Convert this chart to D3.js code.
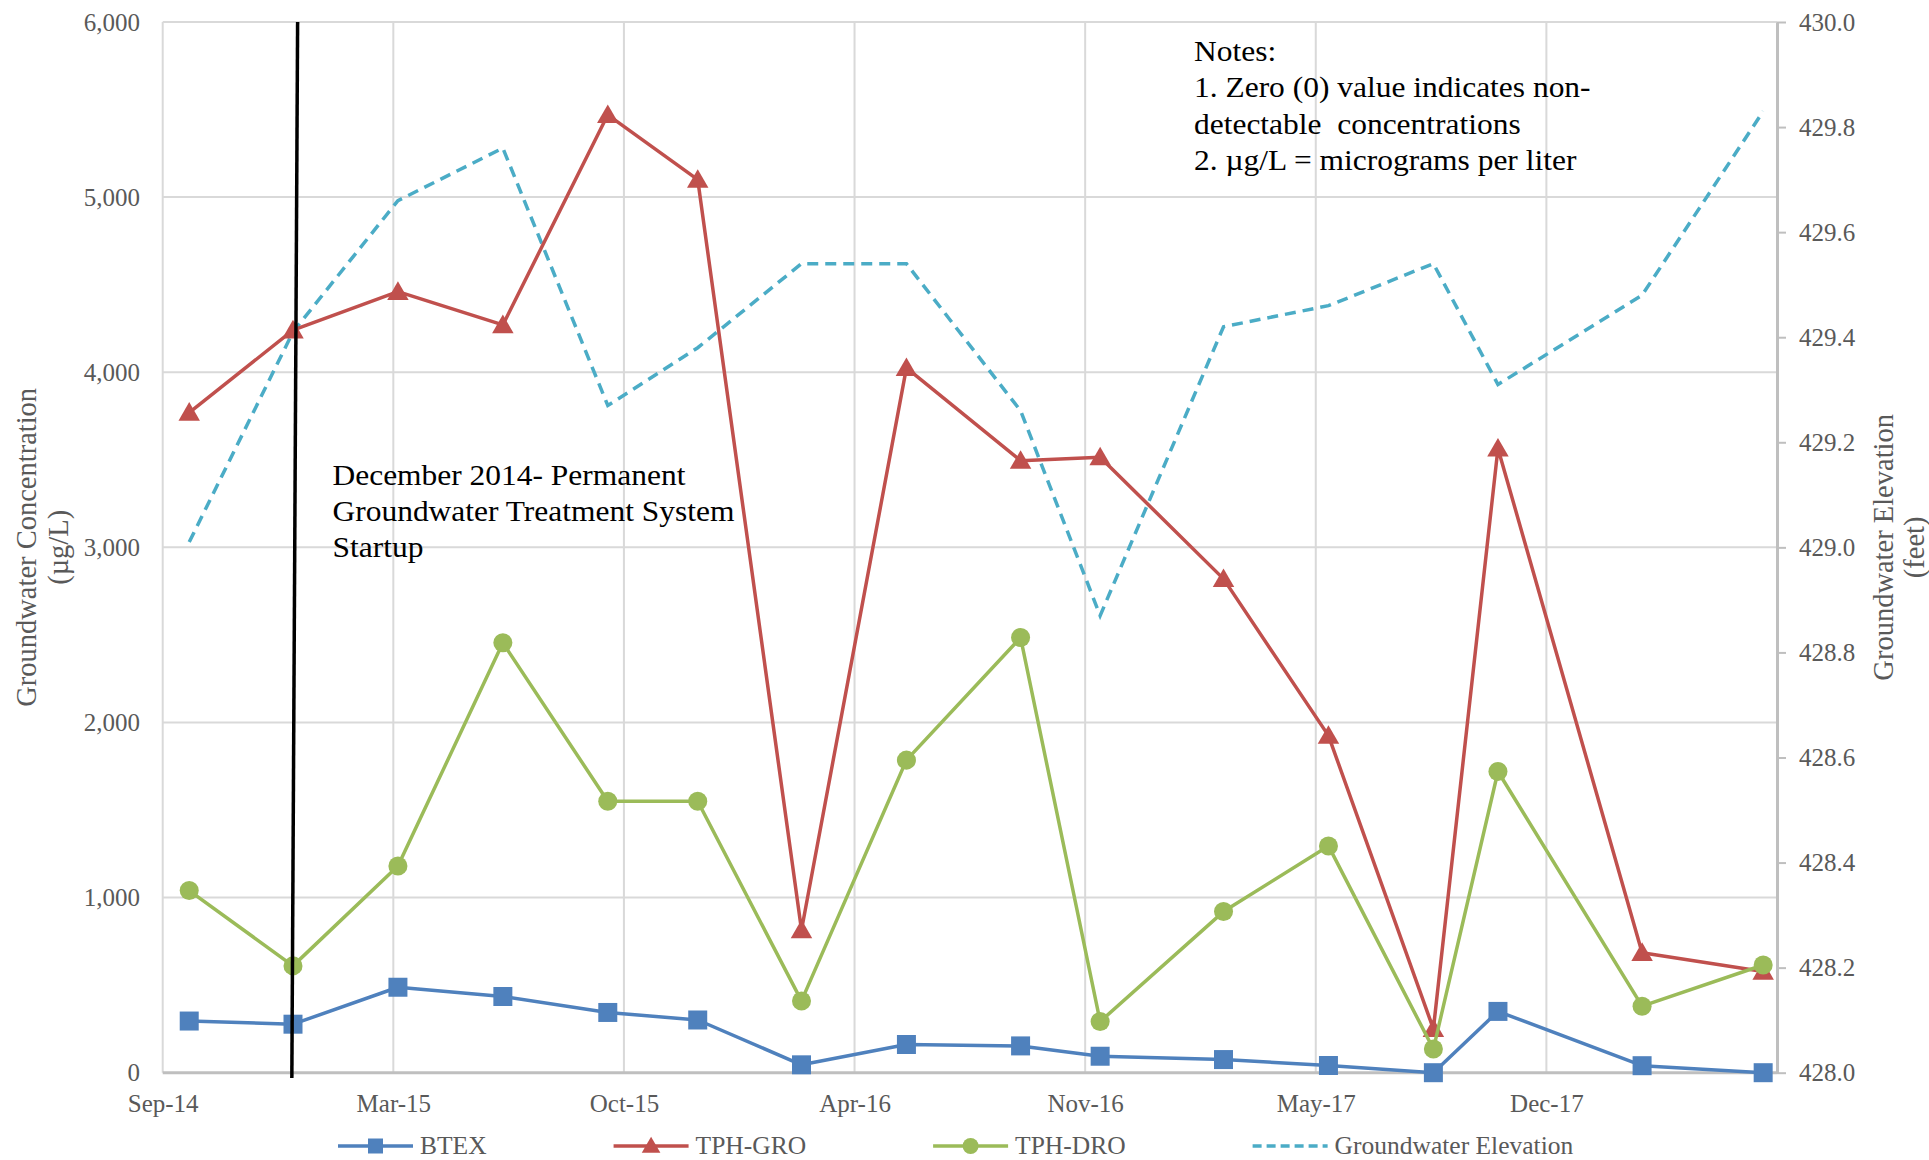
<!DOCTYPE html>
<html>
<head>
<meta charset="utf-8">
<script src="https://cdn.jsdelivr.net/npm/d3@7"></script>
<style>
  html, body { margin: 0; padding: 0; background: #fff; }
  svg { display: block; }
  text { font-family: "Liberation Serif", "Times New Roman", serif; }
</style>
</head>
<body>
<svg id="chart" width="1929" height="1160"></svg>
<script>
// ---------------- DATA ----------------
const sampleDates = ["2014-09-24","2014-12-23","2015-03-24","2015-06-23","2015-09-22","2015-12-09",
  "2016-03-08","2016-06-07","2016-09-14","2016-11-22","2017-03-09","2017-06-08","2017-09-07",
  "2017-11-02","2018-03-07","2018-06-20"];
const btex   = [295, 277, 488, 435, 344, 301, 45, 161, 153, 94, 75, 41, 0, 350, 40, 0];
const tphGro = [3770, 4240, 4460, 4270, 5470, 5100, 815, 4025, 3495, 3515, 2820, 1925, 250, 3565, 685, 578];
const tphDro = [1040, 610, 1180, 2455, 1550, 1550, 410, 1785, 2485, 292, 920, 1295, 135, 1720, 380, 615];
const gwElev = [429.01, 429.41, 429.66, 429.76, 429.27, 429.38, 429.54, 429.54, 429.26, 428.87,
  429.42, 429.46, 429.54, 429.31, 429.48, 429.83];

const xDomain = ["2014-09-01", "2018-07-02"];
const xTickDates = ["2014-09-01","2015-03-20","2015-10-06","2016-04-23","2016-11-09","2017-05-28","2017-12-14"];
const leftTicks = [0, 1000, 2000, 3000, 4000, 5000, 6000];
const rightTicks = [428.0, 428.2, 428.4, 428.6, 428.8, 429.0, 429.2, 429.4, 429.6, 429.8, 430.0];

const startupLineDates = ["2014-12-27", "2014-12-22"];
const startupLineValues = [6000, -30];
const startupText = ["December 2014- Permanent", "Groundwater Treatment System", "Startup"];
const notesText = ["Notes:", "1. Zero (0) value indicates non-", "detectable  concentrations", "2. \u00b5g/L = micrograms per liter"];

const seriesNames = ["BTEX", "TPH-GRO", "TPH-DRO", "Groundwater Elevation"];
const seriesColors = ["#4F81BD", "#C0504D", "#9BBB59", "#4BACC6"];
const leftTitle = ["Groundwater Concentration", "(\u00b5g/L)"];
const rightTitle = ["Groundwater Elevation", "(feet)"];

// ---------------- LAYOUT ----------------
const L = 162.7, R = 1777, T = 22, B = 1072.7;
const pd = s => { const [y,m,d] = s.split("-").map(Number); return new Date(Date.UTC(y, m-1, d)); };

const svg = d3.select("#chart");
const x = d3.scaleUtc().domain(xDomain.map(pd)).range([L, R]);
const yL = d3.scaleLinear().domain([0, 6000]).range([B, T]);
const yR = d3.scaleLinear().domain([428, 430]).range([B, T]);

const tickColor = "#595959";
const fontTick = 25;
const serif = '"Liberation Serif", "Times New Roman", serif';

// gridlines
const grid = svg.append("g");
grid.selectAll("line.h").data(leftTicks.filter(v => v > 0)).enter().append("line")
  .attr("x1", L).attr("x2", R).attr("y1", d => yL(d)).attr("y2", d => yL(d))
  .attr("stroke", "#D9D9D9").attr("stroke-width", 2);
grid.selectAll("line.v").data(xTickDates).enter().append("line")
  .attr("x1", d => x(pd(d))).attr("x2", d => x(pd(d))).attr("y1", T).attr("y2", B)
  .attr("stroke", "#D9D9D9").attr("stroke-width", 2);

// bottom axis
const xAxis = d3.axisBottom(x).tickValues(xTickDates.map(pd)).tickFormat(d3.utcFormat("%b-%y")).tickSize(0).tickPadding(0);
const gx = svg.append("g").attr("transform", `translate(0,${B})`).call(xAxis);
gx.select(".domain").remove();
gx.selectAll("text").attr("y", 39).attr("dy", null).attr("fill", tickColor)
  .style("font-size", fontTick + "px").style("font-family", serif);
svg.append("line").attr("x1", L).attr("x2", R).attr("y1", B).attr("y2", B)
  .attr("stroke", "#BFBFBF").attr("stroke-width", 3);

// left axis
const yAxisL = d3.axisLeft(yL).tickValues(leftTicks).tickFormat(d3.format(",")).tickSize(0).tickPadding(0);
const gl = svg.append("g").attr("transform", `translate(${140},0)`).call(yAxisL);
gl.select(".domain").remove();
gl.selectAll("text").attr("x", 0).attr("dy", "0.33em").attr("fill", tickColor)
  .style("font-size", fontTick + "px").style("font-family", serif);

// right axis
const yAxisR = d3.axisRight(yR).tickValues(rightTicks).tickFormat(d3.format(".1f")).tickSize(9).tickSizeOuter(0).tickPadding(13);
const gr = svg.append("g").attr("transform", `translate(${R},0)`).call(yAxisR);
gr.select(".domain").attr("stroke", "#BFBFBF").attr("stroke-width", 3);
gr.selectAll(".tick line").attr("stroke", "#BFBFBF").attr("stroke-width", 2);
gr.selectAll("text").attr("dy", "0.33em").attr("fill", tickColor)
  .style("font-size", fontTick + "px").style("font-family", serif);

// axis titles
const midY = (T + B) / 2;
const lt = svg.append("text").attr("transform", `translate(0,${midY}) rotate(-90)`)
  .attr("text-anchor", "middle").attr("fill", tickColor).style("font-size", "28.5px");
lt.append("tspan").attr("x", 0).attr("y", 36).text(leftTitle[0]);
lt.append("tspan").attr("x", 0).attr("y", 68).text(leftTitle[1]);
const rt = svg.append("text").attr("transform", `translate(0,${midY}) rotate(-90)`)
  .attr("text-anchor", "middle").attr("fill", tickColor).style("font-size", "28.5px");
rt.append("tspan").attr("x", 0).attr("y", 1893).text(rightTitle[0]);
rt.append("tspan").attr("x", 0).attr("y", 1924).text(rightTitle[1]);

// series
const dates = sampleDates.map(pd);
const seriesData = [btex, tphGro, tphDro];
const markerSym = [d3.symbolSquare, d3.symbolTriangle, d3.symbolCircle];
const markerSize = [361, 200, 285];

// groundwater elevation dashed (secondary axis)
svg.append("path").datum(gwElev)
  .attr("fill", "none").attr("stroke", seriesColors[3]).attr("stroke-width", 3.5)
  .attr("stroke-dasharray", "11,7")
  .attr("d", d3.line().x((d, i) => x(dates[i])).y(d => yR(d)));

seriesData.forEach((vals, k) => {
  const g = svg.append("g");
  g.append("path").datum(vals)
    .attr("fill", "none").attr("stroke", seriesColors[k]).attr("stroke-width", 3.5)
    .attr("stroke-linejoin", "round")
    .attr("d", d3.line().x((d, i) => x(dates[i])).y(d => yL(d)));
  g.selectAll("path.m").data(vals).enter().append("path")
    .attr("transform", (d, i) => `translate(${x(dates[i])},${yL(d) + (k === 1 ? 2 : 0)})`)
    .attr("d", d3.symbol().type(markerSym[k]).size(markerSize[k]))
    .attr("fill", seriesColors[k]);
});

// startup line
svg.append("line")
  .attr("x1", x(pd(startupLineDates[0]))).attr("y1", yL(startupLineValues[0]))
  .attr("x2", x(pd(startupLineDates[1]))).attr("y2", yL(startupLineValues[1]))
  .attr("stroke", "#000").attr("stroke-width", 3.5);

// annotation text (slightly widened, as in the reference)
const stretch = 1.085;
const at = svg.append("g").attr("transform", `translate(332.5,0) scale(${stretch},1)`)
  .append("text").attr("fill", "#000").style("font-size", "29px");
startupText.forEach((s, i) => at.append("tspan").attr("x", 0).attr("y", 485 + i * 36).text(s));
const nt = svg.append("g").attr("transform", `translate(1194,0) scale(${stretch},1)`)
  .append("text").attr("fill", "#000").style("font-size", "29px").style("white-space", "pre");
notesText.forEach((s, i) => nt.append("tspan").attr("x", 0).attr("y", 61 + i * 36.3).text(s));

// legend
const legY = 1146;
const leg = svg.append("g");
let lx = 338;
seriesNames.forEach((name, k) => {
  const g = leg.append("g");
  const line = g.append("line").attr("x1", lx).attr("x2", lx + 75).attr("y1", legY).attr("y2", legY)
    .attr("stroke", seriesColors[k]).attr("stroke-width", 3.5);
  if (k === 3) line.attr("stroke-dasharray", "9,5");
  else g.append("path").attr("transform", `translate(${lx + 37.5},${legY + (k === 1 ? 1.5 : 0)})`)
    .attr("d", d3.symbol().type(markerSym[k]).size([225, 150, 200][k])).attr("fill", seriesColors[k]);
  const t = g.append("text").attr("x", lx + 82).attr("y", legY + 7.5).attr("fill", tickColor)
    .style("font-size", "25.5px").text(name);
  lx += 82 + t.node().getComputedTextLength() + 127;
});
</script>
</body>
</html>
